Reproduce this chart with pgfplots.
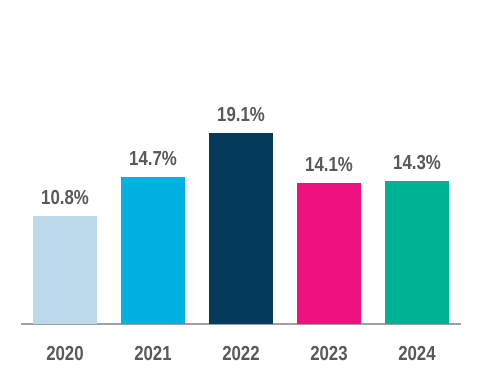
\documentclass[border=0pt]{standalone}
\usepackage{pgfplots}
\pgfplotsset{compat=1.18}
\usepackage{fontspec}
\setmainfont{Liberation Sans}[FakeStretch=0.83]
\definecolor{c1}{RGB}{187,217,234}
\definecolor{c2}{RGB}{0,178,226}
\definecolor{c3}{RGB}{4,58,91}
\definecolor{c4}{RGB}{239,17,128}
\definecolor{c5}{RGB}{0,178,148}
\definecolor{txt}{RGB}{89,89,89}
\definecolor{axl}{RGB}{160,160,160}
\begin{document}
\begin{tikzpicture}
\begin{axis}[
  name=ax,
  scale only axis,
  width=330pt, height=243pt,
  xmin=-0.5, xmax=4.5, ymin=0, ymax=32.4,
  hide y axis,
  axis x line*=bottom,
  x axis line style={-, draw=axl, line width=1.5pt},
  xtick={0,1,2,3,4},
  xticklabels={2020,2021,2022,2023,2024},
  major tick length=0pt,
  xticklabel style={font=\fontsize{15.2pt}{18pt}\selectfont\bfseries, text=txt, anchor=center, yshift=-22.5pt},
  /pgf/number format/assume math mode=true,
  ybar, bar width=48pt, bar shift=0pt,
  nodes near coords={\pgfmathprintnumber[fixed,precision=1,fixed zerofill]{\pgfplotspointmeta}\%},
  nodes near coords style={font=\fontsize{15.2pt}{18pt}\selectfont\bfseries, text=txt, anchor=center, yshift=14pt},
]
\addplot[fill=c1, draw=none] coordinates {(0,10.8)};
\addplot[fill=c2, draw=none] coordinates {(1,14.7)};
\addplot[fill=c3, draw=none] coordinates {(2,19.1)};
\addplot[fill=c4, draw=none] coordinates {(3,14.1)};
\addplot[fill=c5, draw=none] coordinates {(4,14.3)};
\end{axis}
\pgfresetboundingbox
\path ([xshift=-15.75pt, yshift=-45pt]ax.south west) rectangle ([xshift=14.25pt]ax.north east);
\end{tikzpicture}
\end{document}
